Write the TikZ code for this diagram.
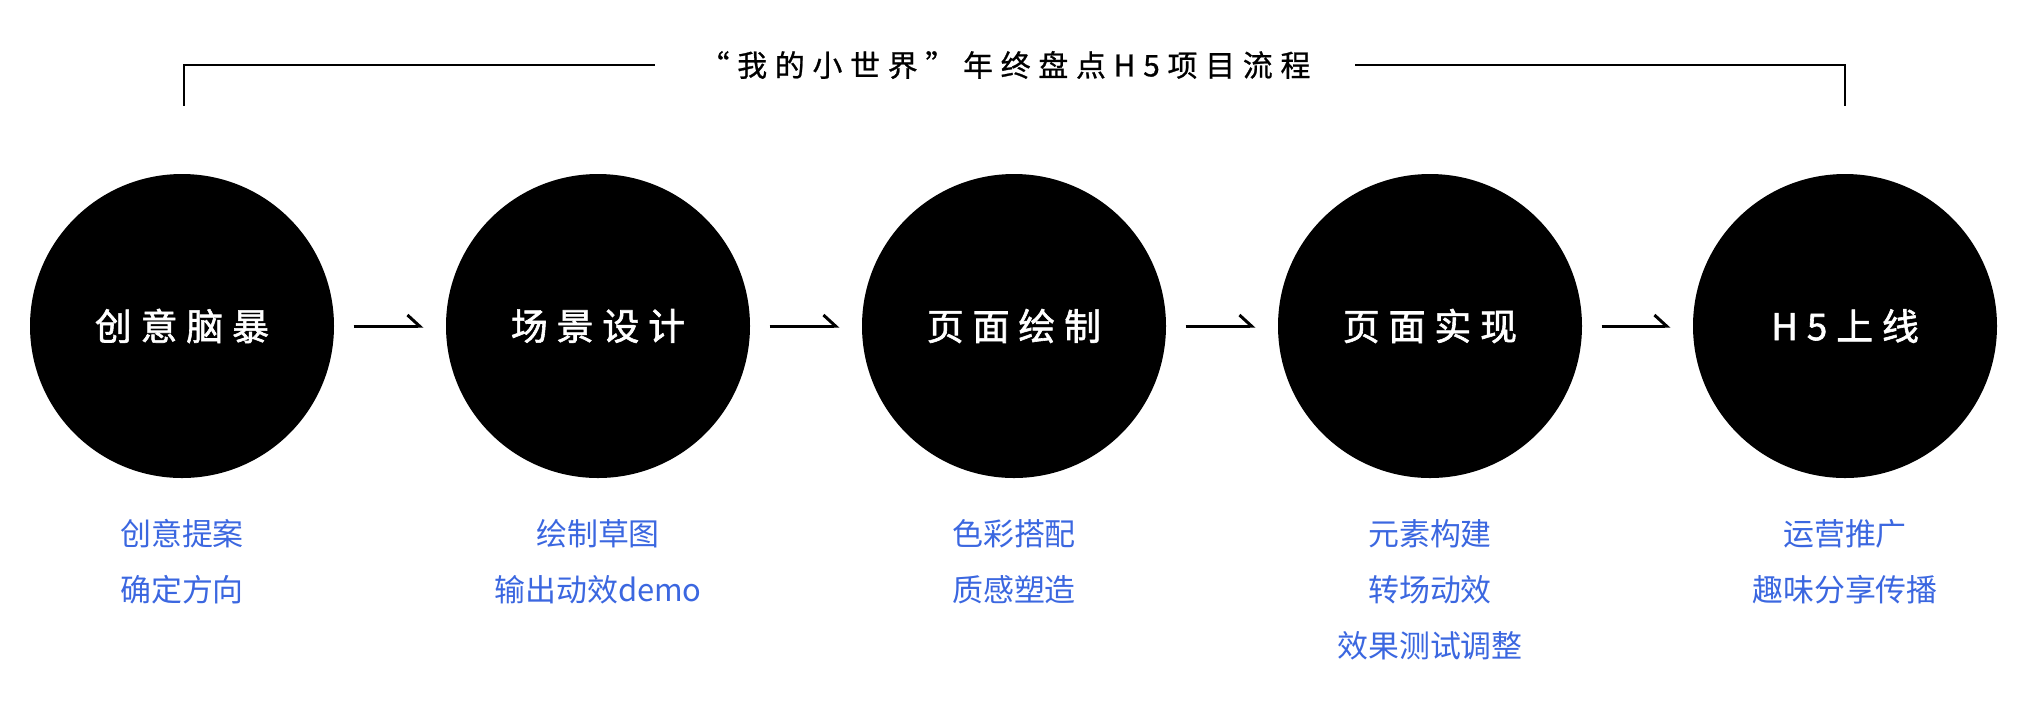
\documentclass[tikz,border=0pt]{standalone}
\usepackage{fontspec}
\usetikzlibrary{arrows.meta,positioning}
\newfontfamily\cjk{Noto Sans CJK SC}
\newfontfamily\cjkwide[LetterSpace=24, RawFeature={embolden=1.6}]{Noto Sans CJK SC}
\newfontfamily\cjktitle[LetterSpace=26, RawFeature={embolden=0.8}]{Noto Sans CJK SC}
\definecolor{stepblue}{HTML}{3B67E0}

\begin{document}
\begin{tikzpicture}[
    stage/.style={circle, fill=black, minimum size=3.04cm, inner sep=0, text=white, font=\fontsize{10.5}{12}\cjkwide},
    note/.style={align=center, inner sep=0, text=stepblue, font=\fontsize{8.8}{15.9}\cjk},
    flow/.style={-{Straight Barb[left, length=1.2mm, width=2.2mm]}, line width=0.85pt, shorten <=1.9mm, shorten >=2.2mm},
    frame/.style={line width=0.5pt},
]
\useasboundingbox (0,0) rectangle (20.2,-7.18);

\node[stage] (brain) at (1.82,-3.26) {创意脑暴};
\node[stage] (scene) at (5.98,-3.26) {场景设计};
\node[stage] (paint) at (10.14,-3.26) {页面绘制};
\node[stage] (build) at (14.30,-3.26) {页面实现};
\node[stage] (launch) at (18.45,-3.26) {H5上线};

\draw[flow] (brain) -- (scene);
\draw[flow] (scene) -- (paint);
\draw[flow] (paint) -- (build);
\draw[flow] (build) -- (launch);

\node[note, below=0.4cm of brain] (brainnote) {创意提案\\确定方向};
\node[note, below=0.4cm of scene] (scenenote) {绘制草图\\输出动效demo};
\node[note, below=0.4cm of paint] (paintnote) {色彩搭配\\质感塑造};
\node[note, below=0.4cm of build] (buildnote) {元素构建\\转场动效\\效果测试调整};
\node[note, below=0.4cm of launch] (launchnote) {运营推广\\趣味分享传播};

\node[font=\fontsize{8.5}{10}\cjktitle, inner xsep=0.44cm, inner ysep=0] (title) at (10.05,-0.65) {“我的小世界”年终盘点H5项目流程};
\coordinate (left) at (1.84,-1.06);
\coordinate (right) at (18.45,-1.06);
\draw[frame] (title.west) -| (left);
\draw[frame] (title.east) -| (right);

\end{tikzpicture}
\end{document}
